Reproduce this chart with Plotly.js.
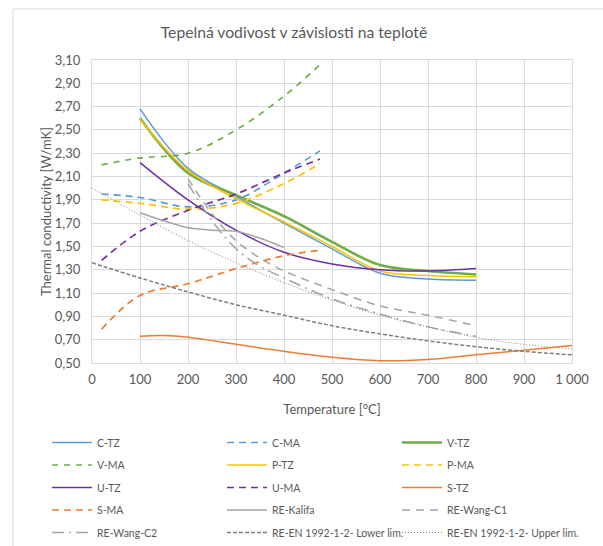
<!DOCTYPE html>
<html>
<head>
<meta charset="utf-8">
<script src="https://cdn.plot.ly/plotly-3.0.1.min.js"></script>
<style>html,body{margin:0;padding:0;background:#fff;}#chart{width:603px;height:546px;}</style>
</head>
<body>
<div id="chart"></div>
<script>
// Temperatures [°C]
var tTZ = [100, 200, 300, 400, 500, 600, 700, 800];
var tMA = [20, 100, 200, 300, 400, 475];
var tSMA = [20, 100, 200, 300, 400, 480];
var tSTZ = [100, 150, 200, 300, 400, 500, 600, 700, 800, 900, 1000];
var tKalifa = [100, 150, 200, 250, 300, 350, 400];
var tWang = [200, 250, 300, 350, 400, 500, 600, 700, 800];
var tEN = [0, 100, 200, 300, 400, 500, 600, 700, 800, 900, 1000];

// Thermal conductivity [W/mK]
var cTZ = [2.68, 2.17, 1.93, 1.70, 1.48, 1.27, 1.22, 1.21];
var cMA = [1.95, 1.92, 1.84, 1.90, 2.13, 2.32];
var vTZ = [2.60, 2.13, 1.94, 1.76, 1.54, 1.34, 1.29, 1.26];
var vMA = [2.20, 2.26, 2.30, 2.50, 2.79, 3.06];
var pTZ = [2.59, 2.15, 1.91, 1.71, 1.50, 1.29, 1.25, 1.24];
var pMA = [1.90, 1.87, 1.82, 1.87, 2.04, 2.21];
var uTZ = [2.22, 1.90, 1.64, 1.45, 1.35, 1.30, 1.29, 1.31];
var uMA = [1.38, 1.63, 1.81, 1.95, 2.13, 2.25];
var sTZ = [0.73, 0.735, 0.72, 0.66, 0.60, 0.55, 0.52, 0.53, 0.57, 0.61, 0.65];
var sMA = [0.79, 1.08, 1.18, 1.31, 1.42, 1.47];
var reKalifa = [1.79, 1.72, 1.66, 1.64, 1.63, 1.57, 1.49];
var reWangC1 = [2.08, 1.78, 1.55, 1.40, 1.29, 1.13, 0.99, 0.91, 0.82];
var reWangC2 = [2.04, 1.72, 1.48, 1.33, 1.23, 1.05, 0.92, 0.81, 0.73];
var enLower = [1.36, 1.23, 1.11, 1.00, 0.91, 0.82, 0.75, 0.69, 0.64, 0.60, 0.57];
var enUpper = [2.00, 1.77, 1.55, 1.36, 1.19, 1.04, 0.91, 0.81, 0.72, 0.66, 0.62];

var names = ['C-TZ','C-MA','V-TZ','V-MA','P-TZ','P-MA','U-TZ','U-MA','S-TZ','S-MA',
  'RE-Kalifa','RE-Wang-C1','RE-Wang-C2','RE-EN 1992-1-2- Lower lim.','RE-EN 1992-1-2- Upper lim.'];

var BLUE='#5B9BD5', GREEN='#70AD47', YEL='#FFC000', PUR='#7030A0', ORA='#ED7D31', GRY='#A5A5A5', DGR='#7F7F7F';

var idx = 0;
function tr(name, x, y, color, width, dash) {
  var col = idx % 3; var g = 'g' + idx; idx++;
  return {type:'scatter', mode:'lines', name:name, x:x, y:y,
    legend: col === 0 ? 'legend' : 'legend' + (col + 1), legendgroup:g,
    line:{color:color, width:width, dash:dash, shape:'spline', smoothing:1}, hoverinfo:'x+y+name'};
}

var MADASH = '7px,5px';
var data = [
  tr(names[0], tTZ, cTZ, BLUE, 1.5, 'solid'),
  tr(names[1], tMA, cMA, BLUE, 1.7, MADASH),
  tr(names[2], tTZ, vTZ, GREEN, 2.6, 'solid'),
  tr(names[3], tMA, vMA, GREEN, 1.7, '6px,6px'),
  tr(names[4], tTZ, pTZ, YEL, 1.5, 'solid'),
  tr(names[5], tMA, pMA, YEL, 1.7, MADASH),
  tr(names[6], tTZ, uTZ, PUR, 1.5, 'solid'),
  tr(names[7], tMA, uMA, PUR, 1.7, MADASH),
  tr(names[8], tSTZ, sTZ, ORA, 1.5, 'solid'),
  tr(names[9], tSMA, sMA, ORA, 1.7, MADASH),
  tr(names[10], tKalifa, reKalifa, GRY, 1.5, 'solid'),
  tr(names[11], tWang, reWangC1, GRY, 1.5, '8px,6px'),
  tr(names[12], tWang, reWangC2, GRY, 1.5, '12px,5px,2px,5px'),
  tr(names[13], tEN, enLower, DGR, 1.5, '4px,2px'),
  tr(names[14], tEN, enUpper, DGR, 1, '1px,2px')
];

var FONT = 'Lato, "Open Sans", sans-serif';
var TXT = '#595959';

var colX = [47, 222, 397];
function leg(i) {
  return {orientation:'v', xref:'paper', yref:'container', x:(colX[i]-92)/480, xanchor:'left',
    y:1 - 428/546, yanchor:'top', tracegroupgap:3.5, itemwidth:40,
    font:{family:FONT, size:10.5, color:TXT}, bgcolor:'rgba(0,0,0,0)', traceorder:'grouped'};
}

var layout = {
  width:603, height:546,
  margin:{l:92, r:31, t:60, b:183},
  paper_bgcolor:'#fff', plot_bgcolor:'#fff',
  font:{family:FONT, color:TXT, size:12},
  separators:', ',
  title:{text:'Tepelná vodivost v závislosti na teplotě', font:{family:FONT, size:15.7, color:TXT},
    x:202/480, xanchor:'center', y:1-33/546, yanchor:'middle', xref:'paper'},
  xaxis:{range:[0,1000], dtick:100, tick0:0, separatethousands:true, showgrid:true, gridcolor:'#D9D9D9', gridwidth:1,
    zeroline:false, showline:true, linecolor:'#D9D9D9', mirror:true, ticks:'', ticklabelstandoff:4,
    tickfont:{family:FONT, size:13, color:TXT},
    title:{text:'Temperature [°C]', font:{family:FONT, size:13, color:TXT}, standoff:19}},
  yaxis:{range:[0.5,3.1], dtick:0.2, tick0:0.5, tickformat:'.2f', showgrid:true, gridcolor:'#D9D9D9', gridwidth:1,
    zeroline:false, showline:true, linecolor:'#D9D9D9', mirror:true, ticks:'', ticklabelstandoff:8,
    tickfont:{family:FONT, size:13, color:TXT},
    title:{text:'Thermal conductivity [W/mK]', font:{family:FONT, size:13, color:TXT}, standoff:0}},
  legend:leg(0), legend2:leg(1), legend3:leg(2),
  shapes:[{type:'rect', xref:'paper', yref:'paper', x0:-79/480, x1:525/480, y0:(363-560)/303, y1:(363-9)/303,
    line:{color:'#D9D9D9', width:1}, fillcolor:'rgba(0,0,0,0)', layer:'below'}],
  showlegend:true
};

Plotly.newPlot('chart', data, layout, {displayModeBar:false, staticPlot:true});
</script>
</body>
</html>
